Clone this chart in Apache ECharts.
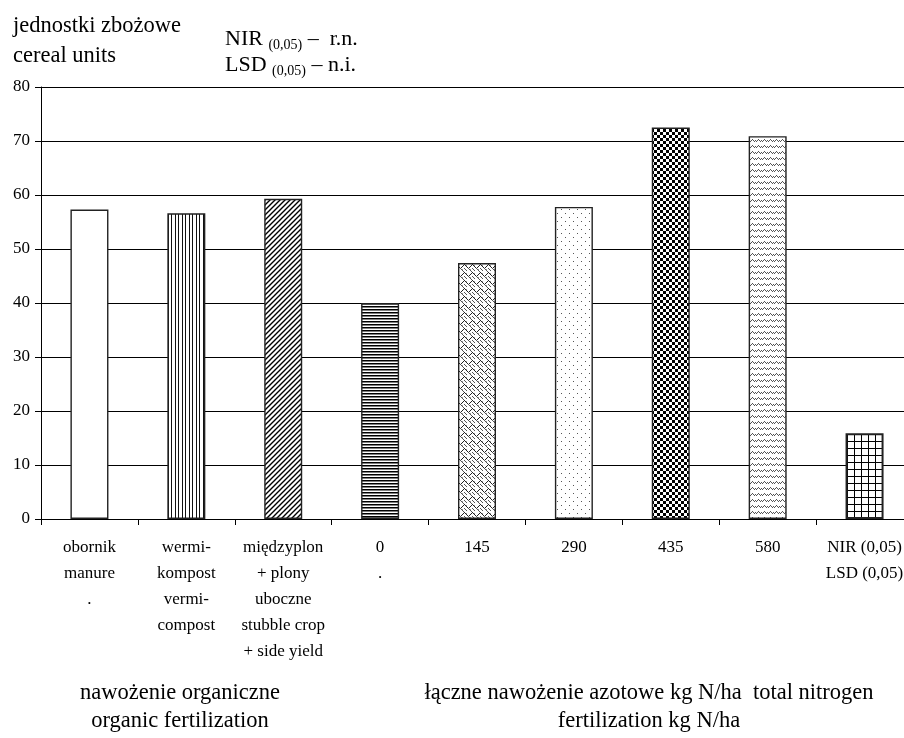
<!DOCTYPE html>
<html>
<head>
<meta charset="utf-8">
<script src="https://cdn.jsdelivr.net/npm/echarts@6/dist/echarts.min.js"></script>
<style>
  html, body { margin: 0; padding: 0; background: #fff; overflow: hidden; }
  #chart { width: 904px; height: 738px; }
</style>
</head>
<body>
<div id="chart"></div>
<script>
// Cereal units by fertilization variant
const categories = [
  'obornik\nmanure\n.',
  'wermi-\nkompost\nvermi-\ncompost',
  'międzyplon\n+ plony\nuboczne\nstubble crop\n+ side yield',
  '0\n.',
  '145',
  '290',
  '435',
  '580',
  'NIR (0,05)\nLSD (0,05)'
];
const values = [57.3, 56.6, 59.3, 40.0, 47.4, 57.8, 72.5, 70.9, 15.9];
const yTicks = { min: 0, max: 80, interval: 10 };

const FONT = '"Liberation Serif", "Times New Roman", serif';

// Small monochrome fill tiles, one per bar
function tile(w, h, draw) {
  const c = document.createElement('canvas');
  c.width = w; c.height = h;
  const g = c.getContext('2d');
  g.fillStyle = '#fff';
  g.fillRect(0, 0, w, h);
  draw(g);
  return { image: c, repeat: 'repeat' };
}
function px(g, pts, color) {
  g.fillStyle = color || '#000';
  pts.forEach(p => g.fillRect(p[0], p[1], p[2] || 1, p[3] || 1));
}

const fills = [
  '#ffffff',
  // vertical lines
  tile(7, 4, g => px(g, [[0, 0, 1, 4], [3, 0, 1, 4]], '#111')),
  // diagonal lines
  tile(5, 5, g => {
    g.strokeStyle = '#000'; g.lineWidth = 1.4;
    g.beginPath();
    g.moveTo(-1, 6); g.lineTo(6, -1);
    g.moveTo(-6, 6); g.lineTo(6, -6);
    g.moveTo(-1, 11); g.lineTo(11, -1);
    g.stroke();
  }),
  // horizontal lines
  tile(4, 3, g => px(g, [[0, 0, 4, 1.5]], '#000')),
  // trellis / weave
  tile(8, 8, g => {
    px(g, [[0, 0], [1, 1], [2, 2], [3, 3], [5, 3], [6, 2], [7, 1]], '#222');
    px(g, [[4, 4], [5, 5], [6, 6], [7, 7], [0, 4], [1, 5], [2, 6]], '#555');
    px(g, [[2, 1], [6, 5]], '#999');
  }),
  // sparse dots
  tile(8, 8, g => px(g, [[1, 1], [5, 5]], '#555')),
  // checkerboard
  tile(6, 6, g => px(g, [[0, 0, 3, 3], [3, 3, 3, 3]], '#000')),
  // small waves
  tile(6, 6, g => px(g, [[0, 3], [1, 2], [2, 1], [3, 2], [4, 3], [5, 2]], '#555')),
  // grid
  tile(7, 7, g => px(g, [[0, 0, 7, 1], [0, 0, 1, 7]], '#000'))
];

const chart = echarts.init(document.getElementById('chart'), null, { renderer: 'canvas' });

const subRich = {
  m: { fontFamily: FONT, fontSize: 22, lineHeight: 26, verticalAlign: 'middle', fill: '#000' },
  s: { fontFamily: FONT, fontSize: 14, lineHeight: 14, verticalAlign: 'bottom', fill: '#000' }
};

chart.setOption({
  backgroundColor: '#fff',
  animation: false,
  // the plot runs slightly past the right edge of the page
  grid: { left: 41, width: 872, top: 87, bottom: 219, containLabel: false, outerBoundsMode: 'none' },
  xAxis: {
    type: 'category',
    data: categories,
    boundaryGap: true,
    axisLine: { lineStyle: { color: '#000', width: 1 } },
    axisTick: { show: true, length: 6, alignWithLabel: false, lineStyle: { color: '#000' } },
    axisLabel: {
      interval: 0, margin: 16, color: '#000',
      fontFamily: FONT, fontSize: 17, lineHeight: 26, align: 'center'
    },
    splitLine: { show: false }
  },
  yAxis: {
    type: 'value',
    min: yTicks.min, max: yTicks.max, interval: yTicks.interval,
    axisLine: { show: true, lineStyle: { color: '#000', width: 1 } },
    axisTick: { show: true, length: 6, lineStyle: { color: '#000' } },
    axisLabel: { color: '#000', fontFamily: FONT, fontSize: 17, margin: 11 },
    splitLine: { show: true, lineStyle: { color: '#000', width: 1 } }
  },
  series: [{
    type: 'bar',
    barWidth: 38,
    data: values.map((v, i) => ({
      value: v,
      itemStyle: { color: fills[i], borderColor: '#222', borderWidth: i === 8 ? 2 : 1.4 }
    }))
  }],
  graphic: [
    { type: 'text', left: 13, top: 15,
      style: { text: 'jednostki zbożowe', font: '22.5px ' + FONT, fill: '#000' } },
    { type: 'text', left: 13, top: 45,
      style: { text: 'cereal units', font: '22.5px ' + FONT, fill: '#000' } },
    { type: 'text', left: 225, top: 28,
      style: { text: '{m|NIR }{s|(0,05)}{m| –  r.n.}', fill: '#000', rich: subRich } },
    { type: 'text', left: 225, top: 54,
      style: { text: '{m|LSD }{s|(0,05)}{m| – n.i.}', fill: '#000', rich: subRich } },
    { type: 'text', x: 180, y: 679,
      style: { text: 'nawożenie organiczne\norganic fertilization', font: '22.5px ' + FONT,
        lineHeight: 28, fill: '#000', align: 'center', verticalAlign: 'top' } },
    { type: 'text', x: 649, y: 679,
      style: { text: 'łączne nawożenie azotowe kg N/ha  total nitrogen\nfertilization kg N/ha', font: '22.5px ' + FONT,
        lineHeight: 28, fill: '#000', align: 'center', verticalAlign: 'top' } }
  ]
});
</script>
</body>
</html>
